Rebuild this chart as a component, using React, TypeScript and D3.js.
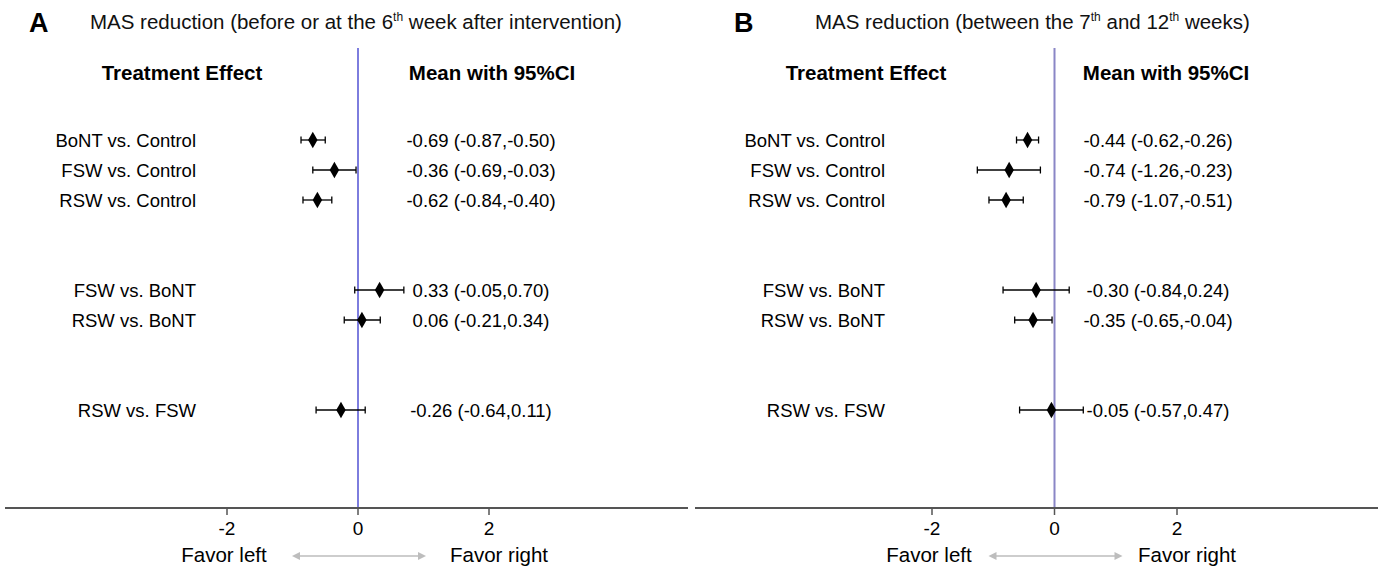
import React from "react";
import * as d3 from "d3";

const comparisons = ["BoNT vs. Control", "FSW vs. Control", "RSW vs. Control", "FSW vs. BoNT", "RSW vs. BoNT", "RSW vs. FSW"];
const rowSlots = [0, 1, 2, 5, 6, 9];

const meanA = [-0.69, -0.36, -0.62, 0.33, 0.06, -0.26];
const lowA = [-0.87, -0.69, -0.84, -0.05, -0.21, -0.64];
const highA = [-0.5, -0.03, -0.4, 0.7, 0.34, 0.11];

const meanB = [-0.44, -0.74, -0.79, -0.3, -0.35, -0.05];
const lowB = [-0.62, -1.26, -1.07, -0.84, -0.65, -0.57];
const highB = [-0.26, -0.23, -0.51, 0.24, -0.04, 0.47];

const tickValues = [-2, 0, 2];

const fmt = (v: number) => (v < 0 ? "-" : "") + Math.abs(v).toFixed(2);

type PanelProps = {
  letter: string;
  titleParts: { text: string; sup?: boolean }[];
  mean: number[];
  low: number[];
  high: number[];
  letterX: number;
  titleX: number;
  x0: number;
  x2: number;
  labelRight: number;
  statCenter: number;
  teCenter: number;
  meanHeadCenter: number;
  zeroColor: string;
  axisLeft: number;
  axisRight: number;
};

const FONT = "'Liberation Sans', Arial, Helvetica, sans-serif";

function Panel(p: PanelProps) {
  const x = d3.scaleLinear().domain([-2, 2]).range([p.x0, p.x2]);
  const y = d3.scaleLinear().domain([0, 9]).range([140, 410]);
  const axisY = 508;
  const diamond = d3.symbol().type(d3.symbolDiamond).size(70)() as string;
  return (
    <g>
      <text x={p.letterX} y={32} fontSize={27} fontWeight="bold" fontFamily={FONT}>{p.letter}</text>
      <text x={p.titleX} y={29} fontSize={20.5} fontFamily={FONT} fill="#111">
        {p.titleParts.map((t, i) =>
          t.sup ? (
            <tspan key={i} fontSize={12} dy={-8}>{t.text}</tspan>
          ) : (
            <tspan key={i} dy={i > 0 && p.titleParts[i - 1].sup ? 8 : 0}>{t.text}</tspan>
          )
        )}
      </text>
      <text x={p.teCenter} y={80} fontSize={20.5} fontWeight="bold" fontFamily={FONT} textAnchor="middle">Treatment Effect</text>
      <text x={p.meanHeadCenter} y={80} fontSize={20.5} fontWeight="bold" fontFamily={FONT} textAnchor="middle">Mean with 95%CI</text>

      <line x1={x(0)} x2={x(0)} y1={48} y2={axisY} stroke={p.zeroColor} strokeWidth={2} />
      <line x1={p.axisLeft} x2={p.axisRight} y1={axisY} y2={axisY} stroke="#555" strokeWidth={2} />
      {tickValues.map((t) => (
        <g key={t}>
          <line x1={x(t)} x2={x(t)} y1={axisY} y2={axisY + 7} stroke="#555" strokeWidth={1.5} />
          <text x={x(t)} y={535} fontSize={19} fontFamily={FONT} textAnchor="middle">{t}</text>
        </g>
      ))}

      {comparisons.map((c, i) => {
        const yy = y(rowSlots[i]);
        return (
          <g key={c}>
            <text x={p.labelRight} y={yy + 6.5} fontSize={18.5} fontFamily={FONT} textAnchor="end">{c}</text>
            <line x1={x(p.low[i])} x2={x(p.high[i])} y1={yy} y2={yy} stroke="#000" strokeWidth={1.3} />
            <line x1={x(p.low[i])} x2={x(p.low[i])} y1={yy - 3.5} y2={yy + 3.5} stroke="#000" strokeWidth={1.3} />
            <line x1={x(p.high[i])} x2={x(p.high[i])} y1={yy - 3.5} y2={yy + 3.5} stroke="#000" strokeWidth={1.3} />
            <path d={diamond} transform={`translate(${x(p.mean[i])},${yy}) scale(1.05,1.05)`} fill="#000" />
            <text x={p.statCenter} y={yy + 6.5} fontSize={18.5} fontFamily={FONT} textAnchor="middle">
              {`${fmt(p.mean[i])} (${fmt(p.low[i])},${fmt(p.high[i])})`}
            </text>
          </g>
        );
      })}

      <text x={x(-2) - 3} y={562} fontSize={20.5} fontFamily={FONT} textAnchor="middle">Favor left</text>
      <text x={x(2) + 10} y={562} fontSize={20.5} fontFamily={FONT} textAnchor="middle">Favor right</text>
      <line x1={x(0) - 60} x2={x(0) + 62} y1={556} y2={556} stroke="#bdbdbd" strokeWidth={1.5} />
      <path d={`M${x(0) - 66},556 l8,-4 l0,8 z`} fill="#bdbdbd" />
      <path d={`M${x(0) + 68},556 l-8,-4 l0,8 z`} fill="#bdbdbd" />
    </g>
  );
}

export default function App() {
  return (
    <svg width={1378} height={572} style={{ position: "absolute", left: 0, top: 0, background: "#fff" }}>
      <rect width={1378} height={572} fill="#fff" />
      <Panel
        letter="A"
        titleParts={[
          { text: "MAS reduction (before or at the 6" },
          { text: "th", sup: true },
          { text: " week after intervention)" },
        ]}
        mean={meanA}
        low={lowA}
        high={highA}
        letterX={29}
        titleX={90}
        x0={227}
        x2={489}
        labelRight={196}
        statCenter={481}
        teCenter={182}
        meanHeadCenter={492}
        zeroColor="#7d7dde"
        axisLeft={5}
        axisRight={688}
      />
      <Panel
        letter="B"
        titleParts={[
          { text: "MAS reduction (between the 7" },
          { text: "th", sup: true },
          { text: " and 12" },
          { text: "th", sup: true },
          { text: " weeks)" },
        ]}
        mean={meanB}
        low={lowB}
        high={highB}
        letterX={734}
        titleX={815}
        x0={932}
        x2={1177}
        labelRight={885}
        statCenter={1158}
        teCenter={866}
        meanHeadCenter={1166}
        zeroColor="#8a86c6"
        axisLeft={695}
        axisRight={1378}
      />
    </svg>
  );
}
